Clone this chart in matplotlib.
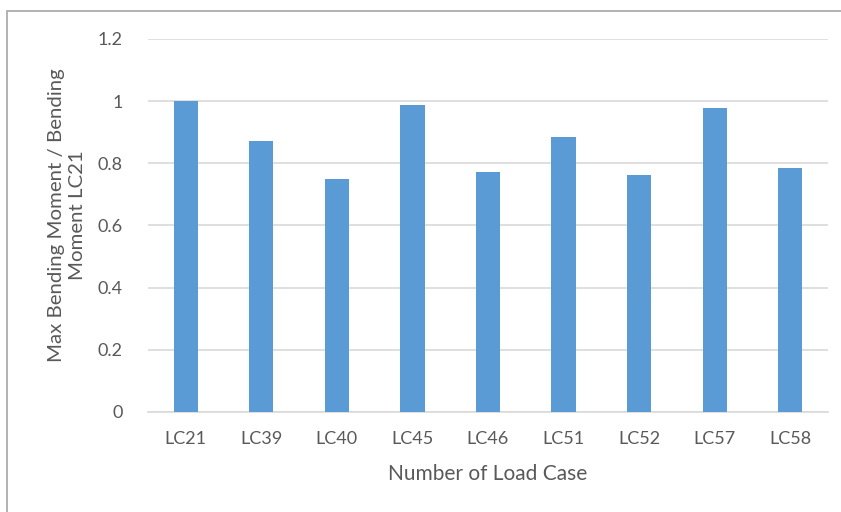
import matplotlib
matplotlib.use("Agg")
import matplotlib.pyplot as plt
from matplotlib.patches import Rectangle

# Load cases and normalised bending moments
load_cases = ["LC21", "LC39", "LC40", "LC45", "LC46", "LC51", "LC52", "LC57", "LC58"]
moment_ratio = [1.0, 0.871, 0.749, 0.987, 0.773, 0.885, 0.763, 0.979, 0.784]
y_ticks = [0, 0.2, 0.4, 0.6, 0.8, 1.0, 1.2]
y_tick_labels = ["0", "0.2", "0.4", "0.6", "0.8", "1", "1.2"]

plt.rcParams["font.family"] = ["Lato", "DejaVu Sans"]
text_color = "#595959"
grid_color = "#d9d9d9"
bar_color = "#5b9bd5"

fig = plt.figure(figsize=(8.41, 5.12), dpi=100)

# chart frame
fig.patches.append(Rectangle((7 / 841, -0.05), 1.2, 1 - 11 / 512 + 0.05,
                             transform=fig.transFigure, fill=False,
                             edgecolor="#a6a6a6", linewidth=1.2))

ax = fig.add_axes([148 / 841, 100 / 512, 680 / 841, 373 / 512])
x = range(len(load_cases))
ax.bar(x, moment_ratio, width=0.32, color=bar_color, zorder=3)

ax.set_xlim(-0.5, len(load_cases) - 0.5)
ax.set_ylim(0, 1.2)
ax.set_yticks(y_ticks)
ax.set_yticklabels(y_tick_labels)
ax.set_xticks(list(x))
ax.set_xticklabels(load_cases)

ax.grid(axis="y", color=grid_color, linewidth=1.2, zorder=0)
ax.set_axisbelow(True)
for side in ["top", "right", "left"]:
    ax.spines[side].set_visible(False)
ax.spines["bottom"].set_color(grid_color)
ax.spines["bottom"].set_linewidth(1.2)
ax.tick_params(axis="both", length=0, colors=text_color, labelsize=13)
ax.tick_params(axis="y", pad=18)
ax.tick_params(axis="x", pad=14)

ax.set_xlabel("Number of Load Case", fontsize=15, color=text_color, labelpad=12)
fig.text(67 / 841, 297 / 512, "Max Bending Moment / Bending\nMoment LC21",
         rotation=90, ha="center", va="center", fontsize=14.7, color=text_color,
         linespacing=1.25)

fig.savefig("out.png", dpi=100)
